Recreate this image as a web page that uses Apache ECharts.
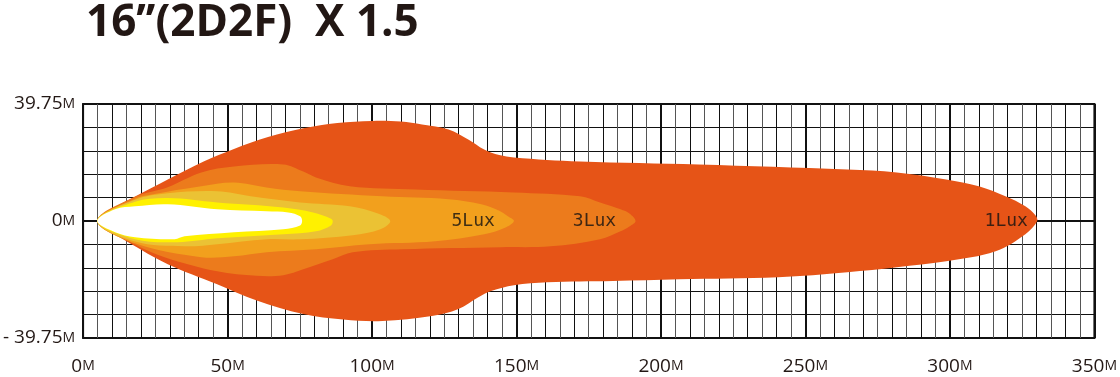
<!DOCTYPE html>
<html>
<head>
<meta charset="utf-8">
<script src="https://cdn.jsdelivr.net/npm/echarts@6/dist/echarts.min.js"></script>
<style>
html,body{margin:0;padding:0;background:#fff;}
#chart{width:1120px;height:377px;}
</style>
</head>
<body>
<div id="chart"></div>
<script>
// ---- data (metres) ----
const titleText = '16’’(2D2F)  X 1.5';
const xLabelValues = [0, 50, 100, 150, 200, 250, 300, 350];
const yLabelValues = [-39.75, 0, 39.75];
const yLabelTexts = ['- 39.75', '0', '39.75'];

// 1 Lux contour
const lux1Upper = [[4.9,0],[11,4.6],[19,8.8],[29.3,14.1],[41.9,20.3],[52,24.4],[64,28.5],[76.2,31.5],[88,33.3],[100,34.0],[110,33.8],[117.3,32.8],[126.5,31.1],[133.3,27.7],[138.8,24.3],[144,22.4],[149.1,21.6],[172,20.2],[213,19.2],[264.5,17.5],[281.6,16.5],[298.7,14.1],[310,11.8],[319.2,8.4],[326.1,5.0],[329.5,2.0],[330.2,0]];
const lux1Lower = [[11,-4.5],[15.6,-7.2],[29.3,-14.7],[46.4,-21.5],[60.1,-27.0],[76.2,-31.6],[90,-33.5],[103.6,-34.0],[120.7,-32.3],[129.9,-29.9],[136.8,-25.9],[141.2,-23.8],[149.1,-21.8],[160.7,-20.8],[183.3,-20.4],[206.3,-19.8],[240.5,-19.1],[264.5,-17.4],[281.6,-15.7],[298.7,-13.7],[315.8,-10.3],[326.1,-4.5]];
// 3 Lux contour
const lux3Upper = [[4.9,0],[18,8.2],[29.3,11.5],[40.9,16.5],[52.2,18.5],[69.3,19.2],[76.2,16.8],[80.6,14.8],[92.3,11.8],[114.9,10.7],[149.1,9.7],[172,8.4],[178.9,6.3],[186,4.0],[189.2,2.5],[191.2,0]];
const lux3Lower = [[18,-8.0],[28.2,-12.3],[46.4,-17.1],[60,-18.6],[69.3,-18.4],[76.2,-16.4],[86.4,-13.0],[93.3,-10.6],[110.4,-9.6],[144.6,-8.9],[161.8,-8.6],[178.9,-6.2],[186,-3.5],[189.2,-1.8]];
// 5 Lux contour
const lux5Upper = [[4.9,0],[18,7.6],[23.8,9.0],[40.9,11.8],[52.2,13.1],[63.5,11.4],[75.1,10.1],[103.6,8.4],[126.5,7.4],[137.8,5.7],[144,3.5],[147,1.6],[149.1,0]];
const lux5Lower = [[18,-7.6],[40.9,-12.3],[52.2,-12.0],[63.5,-10.6],[80.6,-9.6],[99.1,-7.9],[121.8,-6.9],[138.8,-4.5],[146.4,-2.1]];
// gold contour
const goldUpper = [[4.9,0],[18,7.2],[29.3,9.4],[46.4,10.1],[58,8.4],[75.1,6.3],[92.3,5.0],[101.8,2.6],[106.3,0]];
const goldLower = [[18,-7.0],[35.1,-8.6],[46.4,-7.9],[63.5,-6.2],[75.1,-6.2],[93.3,-4.8],[102.9,-2.8]];
// yellow contour
const yellowUpper = [[4.9,0],[18,6.5],[29.3,7.8],[46.4,6.3],[69.3,4.6],[79.6,2.9],[85.8,0.8],[86.4,0]];
const yellowLower = [[18,-6.2],[32.7,-7.2],[46.4,-5.9],[69.3,-4.5],[80.6,-3.5],[85.8,-1.5]];
// white core
const whiteUpper = [[4.9,0],[11.1,4.0],[18,5.0],[29.3,5.7],[46.4,4.0],[63.5,3.3],[71,2.9],[75.1,1.6],[75.8,0]];
const whiteLower = [[11.1,-3.8],[18,-5.5],[31.7,-6.2],[35.1,-5.2],[52.2,-3.8],[69.3,-2.8],[75.1,-1.5]];

const luxLabelX = [135, 177, 319.5];
const luxLabelY = [0, 0, 0];
const luxLabelText = ['5Lux', '3Lux', '1Lux'];

// ---- build ----
const layers = [
  {up: lux1Upper, lo: lux1Lower, color: '#E65417'},
  {up: lux3Upper, lo: lux3Lower, color: '#EC7B1C'},
  {up: lux5Upper, lo: lux5Lower, color: '#F2A01D'},
  {up: goldUpper, lo: goldLower, color: '#EBC234'},
  {up: yellowUpper, lo: yellowLower, color: '#FFF100'},
  {up: whiteUpper, lo: whiteLower, color: '#FFFFFF'}
];

const axisFont = "'Open Sans','Liberation Sans',sans-serif";
const richLabel = {
  n: {fontFamily: axisFont, fontSize: 19, color: '#231815'},
  m: {fontFamily: axisFont, fontSize: 14, color: '#231815'}
};

const series = [];
series.push({
  type: 'line', z: 1, silent: true, symbol: 'none',
  data: [[0, 0], [350, 0]],
  lineStyle: {color: '#111', width: 2}
});
layers.forEach((L, i) => {
  const pts = L.up.concat(L.lo.slice().reverse());
  series.push({
    type: 'custom', z: 2 + i, silent: true,
    data: [0],
    renderItem: function (params, api) {
      return {
        type: 'polygon',
        shape: {points: pts.map(p => api.coord(p)), smooth: 0.35},
        style: {fill: L.color, stroke: null}
      };
    }
  });
});
series.push({
  type: 'scatter', z: 20, silent: true, symbolSize: 0,
  data: luxLabelX.map((x, i) => [x, luxLabelY[i], luxLabelText[i]]),
  label: {
    show: true, position: 'inside',
    formatter: p => p.data[2],
    fontFamily: "'DejaVu Sans Mono',monospace", fontSize: 18, color: '#111'
  }
});

const chart = echarts.init(document.getElementById('chart'), null, {renderer: 'canvas'});
chart.setOption({
  animation: false,
  backgroundColor: '#fff',
  title: {
    text: titleText, left: 81, top: -4,
    textStyle: {fontFamily: "'Open Sans',sans-serif", fontWeight: 'bold', fontSize: 44, color: '#221714'}
  },
  grid: {left: 78, top: 104, width: 1022, height: 234, show: true, borderColor: '#111', borderWidth: 2, backgroundColor: 'transparent'},
  xAxis: [
    {
      type: 'value', min: 0, max: 350, interval: 50,
      axisLine: {show: false}, axisTick: {show: false},
      splitLine: {show: true, lineStyle: {color: '#111', width: 2}},
      axisLabel: {
        margin: 19,
        formatter: v => xLabelValues.indexOf(v) >= 0 ? '{n|' + v + '}{m|M}' : '',
        rich: richLabel
      }
    },
    {
      type: 'value', min: 0, max: 350, interval: 5, position: 'bottom',
      axisLine: {show: false}, axisTick: {show: false}, axisLabel: {show: false},
      splitLine: {show: true, lineStyle: {color: ['#111', '#555'], width: 1}}
    }
  ],
  yAxis: {
    type: 'value', min: -39.75, max: 39.75, interval: 7.95,
    axisLine: {show: false}, axisTick: {show: false},
    splitLine: {show: true, lineStyle: {color: '#111', width: 1}},
    axisLabel: {
      margin: 8,
      formatter: function (v) {
        for (let i = 0; i < yLabelValues.length; i++) {
          if (Math.abs(v - yLabelValues[i]) < 0.01) return '{n|' + yLabelTexts[i] + '}{m|M}';
        }
        return '';
      },
      rich: richLabel
    }
  },
  series: series
});
</script>
</body>
</html>
